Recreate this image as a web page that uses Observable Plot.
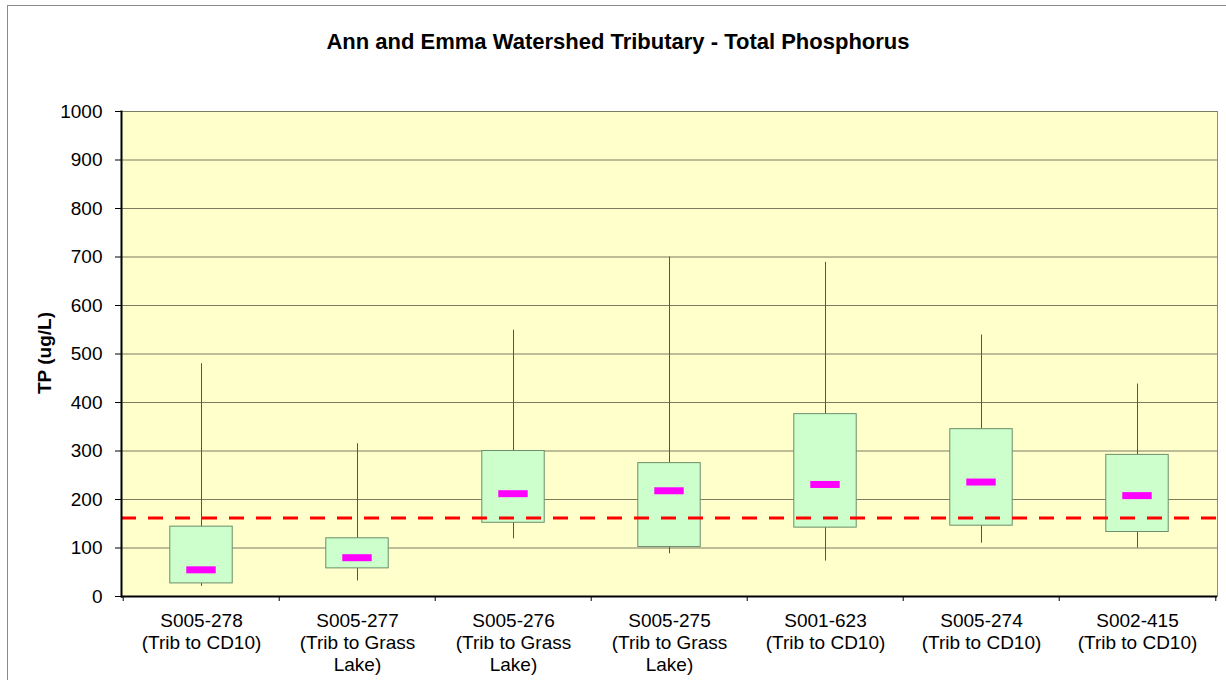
<!DOCTYPE html>
<html>
<head>
<meta charset="utf-8">
<script src="https://cdn.jsdelivr.net/npm/d3@7"></script>
<script src="https://cdn.jsdelivr.net/npm/@observablehq/plot@0.6"></script>
<style>
  html, body { margin: 0; padding: 0; background: #ffffff; overflow: hidden; }
  #wrap { position: relative; width: 1226px; height: 680px; font-family: "Liberation Sans", Arial, sans-serif; }
  #border { position: absolute; left: 7px; top: 5px; width: 1260px; height: 720px; border: 1px solid #8a8a8a; box-sizing: border-box; }
  #title { position: absolute; left: 0; width: 1236px; top: 31px; text-align: center; font-weight: bold; font-size: 22px; line-height: 22px; color: #000; }
  #ylabel { position: absolute; left: -55px; top: 342px; width: 200px; text-align: center; font-weight: bold; font-size: 19px; line-height: 22px; transform: rotate(-90deg); transform-origin: 50% 50%; color: #000; }
  #chart { position: absolute; left: 0; top: 0; }
  #chart svg { background: transparent !important; }
</style>
</head>
<body>
<div id="wrap">
  <div id="border"></div>
  <div id="chart"></div>
  <div id="title">Ann and Emma Watershed Tributary - Total Phosphorus</div>
  <div id="ylabel">TP (ug/L)</div>
</div>
<script>
// ---- data ----
const categories = ["S005-278", "S005-277", "S005-276", "S005-275", "S001-623", "S005-274", "S002-415"];
const subLabels = ["(Trib to CD10)", "(Trib to Grass\nLake)", "(Trib to Grass\nLake)", "(Trib to Grass\nLake)", "(Trib to CD10)", "(Trib to CD10)", "(Trib to CD10)"];
const lows  = [21, 32, 119, 88, 73, 110, 100];
const q1s   = [27, 58, 152, 102, 142, 146, 133];
const q3s   = [144, 120, 300, 275, 376, 345, 292];
const highs = [480, 315, 549, 700, 689, 539, 438];
const mids  = [55, 80, 212, 218, 231, 236, 208];
const threshold = 162;
const yTicks = [0, 100, 200, 300, 400, 500, 600, 700, 800, 900, 1000];

const rows = categories.map((c, i) => ({cat: c, low: lows[i], q1: q1s[i], q3: q3s[i], high: highs[i], mid: mids[i]}));
const subOf = new Map(categories.map((c, i) => [c, subLabels[i]]));

const W = 1226, H = 680, mL = 121, mR = 9, mT = 111, mB = 84;
const bw = (W - mL - mR) / categories.length;

const chart = Plot.plot({
  width: W, height: H,
  marginTop: mT, marginLeft: mL, marginRight: mR, marginBottom: mB,
  x: {domain: categories, padding: 0, label: null},
  y: {domain: [0, 1000], label: null},
  style: {fontFamily: "'Liberation Sans', Arial, sans-serif", fontSize: "19px", background: "transparent", color: "#000"},
  marks: [
    Plot.frame({fill: "#ffffcc", stroke: "#8a8a8a"}),
    Plot.gridY({ticks: yTicks, stroke: "#7b7b60", strokeOpacity: 1, strokeWidth: 1}),
    Plot.ruleX(rows, {x: "cat", y1: "low", y2: "high", stroke: "#55554a", strokeWidth: 1}),
    Plot.barY(rows, {x: "cat", y1: "q1", y2: "q3", fill: "#ccffcc", stroke: "#6b8e6b", strokeWidth: 1, insetLeft: (bw - 63) / 2, insetRight: (bw - 63) / 2}),
    Plot.tickY(rows, {x: "cat", y: "mid", stroke: "#ff00ff", strokeWidth: 7, insetLeft: (bw - 30) / 2, insetRight: (bw - 30) / 2}),
    Plot.ruleY([threshold], {stroke: "#ff0000", strokeWidth: 3, strokeDasharray: "15,12"}),
    Plot.ruleY([0], {stroke: "#000", strokeWidth: 2}),
    Plot.frame({anchor: "left", stroke: "#000", strokeWidth: 2}),
    Plot.axisY({ticks: yTicks, tickSize: 6, tickPadding: 13, fontSize: 19, label: null, stroke: "#000", tickFormat: d => String(d)}),
    Plot.axisX({ticks: categories, text: null, tickSize: 5, dx: -bw / 2, label: null, stroke: "#000"}),
    Plot.axisX({ticks: [categories[categories.length - 1]], text: null, tickSize: 5, dx: bw / 2, label: null, stroke: "#000"}),
    Plot.axisX({tickSize: 0, tickPadding: 14.5, fontSize: 19, lineHeight: 1.16, label: null, tickFormat: d => d + "\n" + subOf.get(d)})
  ]
});
document.getElementById("chart").appendChild(chart);
</script>
</body>
</html>
